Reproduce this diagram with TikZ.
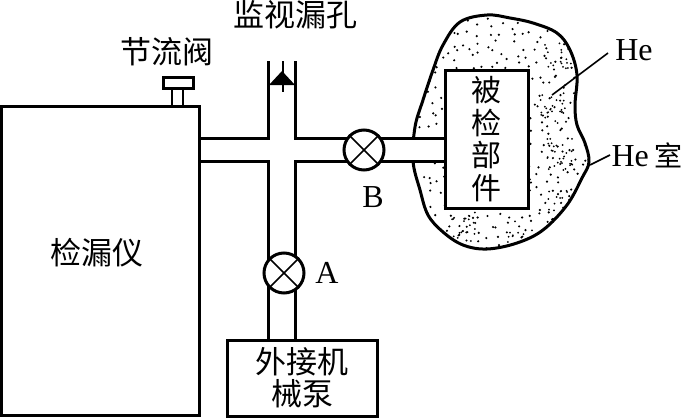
\documentclass[tikz,border=0pt]{standalone}
\usepackage{fontspec}
\setmainfont{Liberation Serif}
\newfontfamily\cjk{Noto Sans CJK SC}
\usetikzlibrary{positioning, calc}

\newcommand{\blobpath}{plot[smooth cycle, tension=0.6] coordinates {(487,15) (460,22) (443,45) (433,70) (423,100) (415,127) (413,161) (420,190) (428,215) (443,232) (463,245) (487,249) (517,243) (543,230) (567,205) (582,178) (589,162) (585,143) (577,125) (575,105) (577,75) (570,50) (557,33) (533,23) (510,18)}}

\begin{document}
\begin{tikzpicture}[
    x=1pt, y=-1pt,
    line width=3pt,
    boxnode/.style={draw, rectangle, fill=white, align=center, inner sep=0pt},
    valve/.style={draw, circle, fill=white, minimum size=40pt, inner sep=0pt},
    cn/.style={font=\cjk\fontsize{31}{32}\selectfont, inner sep=0pt},
    en/.style={font=\fontsize{32}{36}\selectfont, inner sep=0pt},
    thinline/.style={line width=1.6pt}
]
\useasboundingbox (0,0) rectangle (686,418);

% He chamber
\fill[white] \blobpath;
\begin{scope}
\clip \blobpath;
\pgfmathsetseed{11}
\foreach \x in {410,420,...,590}
  \foreach \y in {15,25,...,250}
    \fill[black] (\x+5*rand,\y+5*rand) circle (1.2pt);
\foreach \cx/\cy/\n in {558/55/22,552/110/24,560/155/30,560/205/22,462/225/22,520/238/14}
  \foreach \i in {1,...,\n}
    \fill[black] (\cx+13*rand,\cy+17*rand) circle (1pt);
\end{scope}
\draw \blobpath;

% parts
\node[boxnode, minimum width=198pt, minimum height=309pt] (Detector) at (100,261) {};
\node[cn] (DetectorText) at (97,253) {检漏仪};
\node[boxnode, minimum width=150pt, minimum height=76pt, cn, font=\cjk\fontsize{31}{32}\selectfont] (Pump) at (302,378) {外接机\\械泵};
\node[boxnode, minimum width=83pt, minimum height=138pt, cn, font=\cjk\fontsize{30}{32.5}\selectfont] (Part) at (486.5,139) {被\\检\\部\\件};

% pipes
\coordinate (TopL) at (268,61);
\coordinate (TopR) at (295,61);
\fill[white] (Detector.east |- 0,139) rectangle (Part.west |- 0,160);
\draw (Detector.east |- 0,138) -| (TopL);
\draw (TopR) |- (Part.west |- 0,138);
\draw (Detector.east |- 0,161) -| (268,0 |- Pump.north);
\draw (295,0 |- Pump.north) |- (Part.west |- 0,161);
\fill[white] (269.5,0 |- Pump.north) rectangle (293.5,330);

% valves
\node[valve] (ValveB) at (364,150) {};
\node[valve] (ValveA) at (284,273) {};
\foreach \v in {ValveA, ValveB} {
  \draw[thinline] (\v.45) -- (\v.225);
  \draw[thinline] (\v.135) -- (\v.315);
}
\node[en] (LabelA) at (327,273) {A};
\node[en] (LabelB) at (373,197) {B};

% leak hole
\coordinate (HoleTop) at (283,61);
\coordinate (HoleBot) at (283,92);
\draw[thinline] (HoleTop) -- (HoleBot);
\node[inner sep=0pt] (Hole) at (282,78) {};
\fill (Hole.center) ++(0,-7) -- ++(13,14) -- ++(-26,0) -- cycle;
\node[cn] (HoleText) at (295,15) {监视漏孔};

% throttle valve
\node[draw, rectangle, minimum width=30pt, minimum height=11pt, inner sep=0pt] (Knob) at (178.5,82.5) {};
\draw[line width=2.4pt] (172,0 |- Knob.south) -- (172,0 |- Detector.north);
\draw[line width=2.4pt] (183,0 |- Knob.south) -- (183,0 |- Detector.north);
\node[cn] (KnobText) at (167,52) {节流阀};

% He labels
\node[en] (HeText) at (634,50) {He};
\node[en, anchor=west] (RoomText) at (610,155) {He\hspace{6pt}{\cjk\fontsize{28}{32}\selectfont 室}};
\coordinate (HeEnd) at (552,95);
\coordinate (RoomEnd) at (590,165);
\draw[thinline] (HeEnd) -- (608,53);
\draw[thinline] (RoomEnd) -- (RoomText.west);
\end{tikzpicture}
\end{document}
